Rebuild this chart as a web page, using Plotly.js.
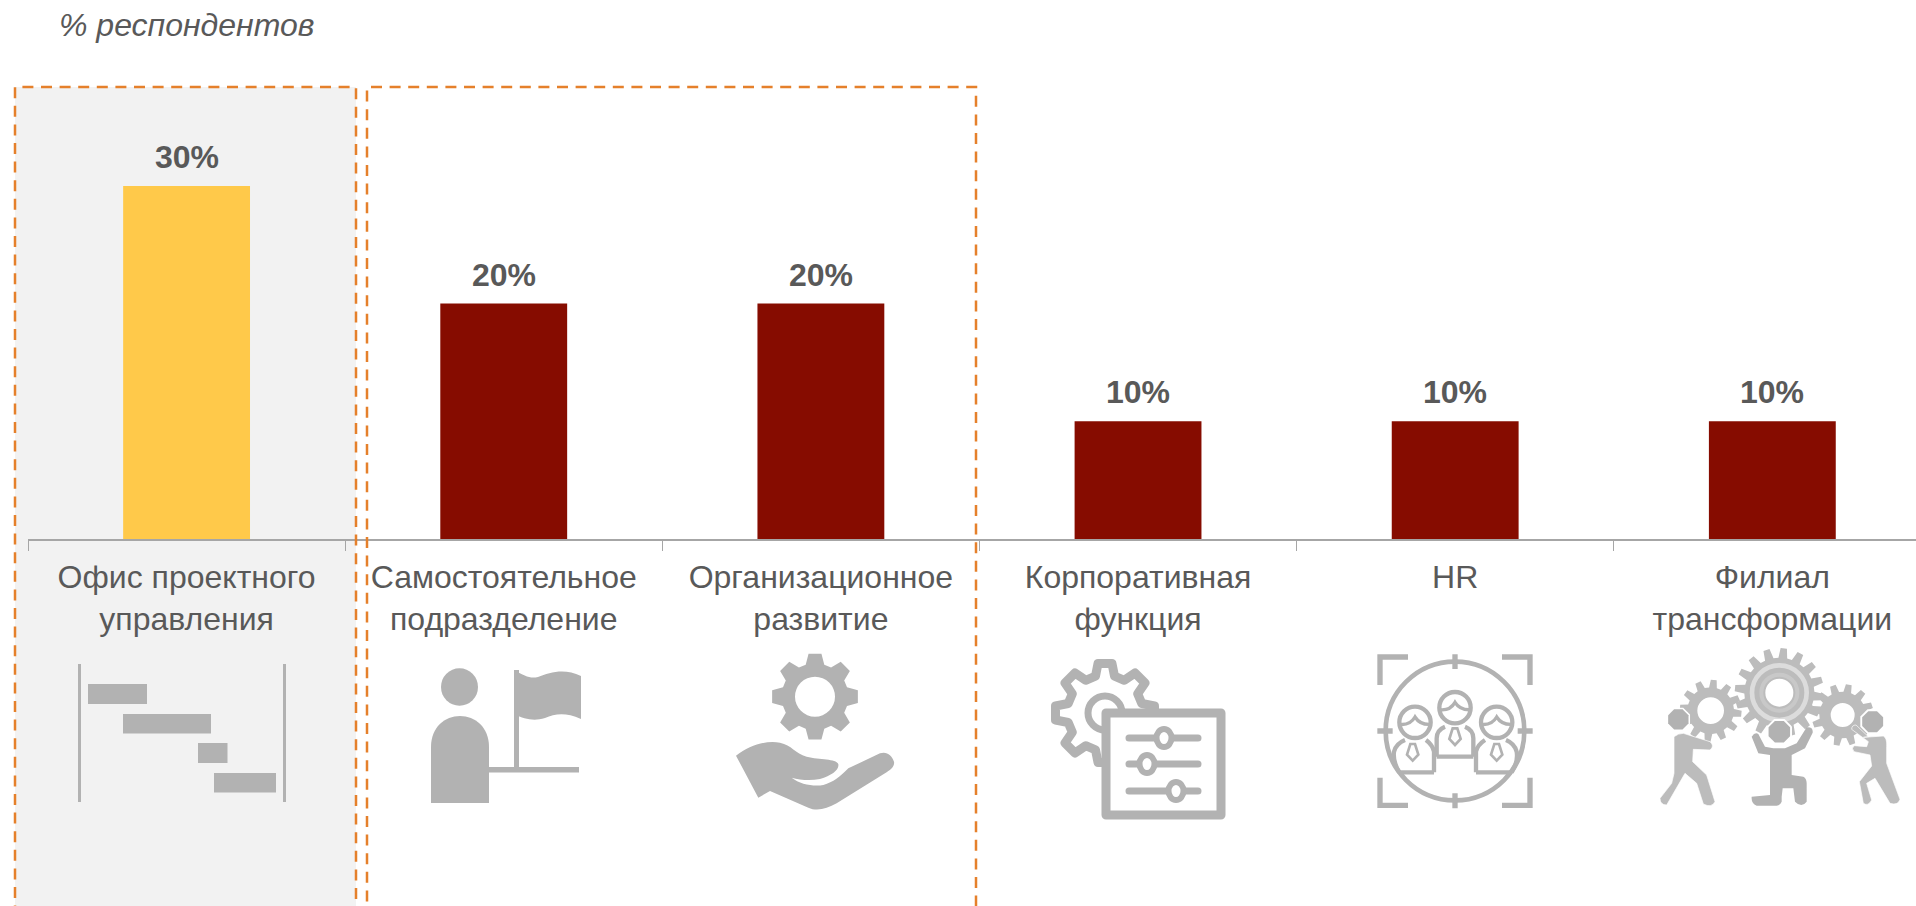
<!DOCTYPE html>
<html><head><meta charset="utf-8">
<script src="https://cdn.plot.ly/plotly-3.0.1.min.js"></script>
<style>html,body{margin:0;padding:0;background:#fff;overflow:hidden}#c{width:1916px;height:906px}</style>
</head><body><div id="c"></div>
<script>
const categories = ['Офис проектного<br>управления','Самостоятельное<br>подразделение','Организационное<br>развитие','Корпоративная<br>функция','HR','Филиал<br>трансформации'];
const values = [30,20,20,10,10,10];
const barColors = ['#FFC94A','#860C00','#860C00','#860C00','#860C00','#860C00'];
const subtitle = '% респондентов';

const W=1916,H=906,L=28,BASE=539;
const fx=p=>(p-L)/(W-L), fy=p=>(BASE-p)/BASE;
const G='#B2B2B2', G2='#BCBCBC';

function gear(cx,cy,ro,ri,n,rot,tip=0.18,root=0.32){
  let d='';const st=2*Math.PI/n;
  for(let i=0;i<n;i++){
    const a=rot+i*st;
    const pts=[[ri,a-st*root],[ro,a-st*tip],[ro,a+st*tip],[ri,a+st*root]];
    pts.forEach((p,j)=>{d+=(i===0&&j===0?'M':'L')+(cx+p[0]*Math.cos(p[1])).toFixed(1)+' '+(cy+p[0]*Math.sin(p[1])).toFixed(1)+' ';});
  }
  return d+'Z';
}
const hole=(cx,cy,r)=>`M${cx+r} ${cy} A${r} ${r} 0 1 0 ${cx-r} ${cy} A${r} ${r} 0 1 0 ${cx+r} ${cy} Z`;
function octagon(cx,cy,r){
  let d='';for(let i=0;i<8;i++){const a=Math.PI/8+i*Math.PI/4;d+=(i?'L':'M')+(cx+r*Math.cos(a)).toFixed(1)+' '+(cy+r*Math.sin(a)).toFixed(1)+' ';}
  return d+'Z';
}
function hrHead(x,y){
  return `<circle cx="${x}" cy="${y}" r="47" fill="none" stroke="${G}" stroke-width="13"/>
  <path d="M${x-47} ${y+6} Q${x-15} ${y+10} ${x} ${y-16} Q${x+15} ${y+8} ${x+47} ${y+6}" fill="none" stroke="${G}" stroke-width="10"/>`;
}
const tie=(x,y)=>`<path d="M${x-7} ${y} L${x+7} ${y} L${x+17} ${y+32} L${x} ${y+50} L${x-17} ${y+32} Z" fill="none" stroke="${G}" stroke-width="8"/>`;
const z3=(x,y,s)=>`<g transform="translate(${x} ${y}) scale(${1/3})">${s}</g>`;
const icons=[
 {b:[70,655,295,810],s:`<g fill="${G}">
   <rect x="78" y="664" width="3" height="138"/><rect x="283" y="664" width="3" height="138"/>
   <rect x="88" y="684" width="59" height="20"/><rect x="123" y="714" width="88" height="19.5"/>
   <rect x="198" y="743" width="29.5" height="20"/><rect x="214" y="773" width="62" height="19.5"/></g>`},
 {b:[425,660,590,810],s:`<g fill="${G}">
   <ellipse cx="459.5" cy="687" rx="18.5" ry="18.7"/>
   <path d="M431 803 V747 C431 727 445 716 460 716 C475 716 489 727 489 747 V803 Z"/>
   <rect x="489" y="767" width="90" height="5.5"/><rect x="514" y="670" width="5" height="98"/>
   <path d="M514 670 C525 676 530 679 538 677 C550 672 565 668 581 676 V719 C565 712 555 714 545 718 C532 722 525 718 514 715 Z"/></g>`},
 {b:[730,648,900,815],s:z3(720,645,`<path fill-rule="evenodd" fill="${G}" d="${gear(285,155,130,100,8,-Math.PI/2,0.19,0.36)} ${hole(285,155,60)}"/>
   <path fill="${G}" d="M48 332 C90 300 140 285 180 293 C215 300 225 325 260 335 C300 345 350 340 355 358 C358 375 335 392 300 402 C270 408 240 405 215 398 C240 418 280 425 310 420 C340 412 360 395 385 370 L480 325 C500 318 515 330 522 350 C525 365 510 375 495 385 L350 475 C320 492 290 500 265 488 L150 438 L115 458 Z"/>`)},
 {b:[1048,654,1230,824],s:`<path d="${gear(1105,713,50,38,8,-Math.PI/2)}" fill="none" stroke="${G}" stroke-width="9" stroke-linejoin="round"/>
   <circle cx="1105" cy="713" r="17" fill="none" stroke="${G}" stroke-width="7"/>
   <rect x="1106" y="713" width="115" height="102" fill="#fff" stroke="${G}" stroke-width="9" stroke-linejoin="round"/>
   <g stroke="${G}" stroke-width="7" stroke-linecap="round"><path d="M1129 738H1198M1129 764H1198M1129 791H1198"/></g>
   <g fill="#fff" stroke="${G}" stroke-width="6"><ellipse cx="1164" cy="738" rx="7.5" ry="9"/><ellipse cx="1147" cy="764" rx="7.5" ry="9"/><ellipse cx="1176" cy="791" rx="7.5" ry="9"/></g>`},
 {b:[1372,649,1537,814],s:z3(1370,645,`<circle cx="255" cy="258" r="208" fill="none" stroke="${G}" stroke-width="14"/>
   <path d="M114 36H30V120 M396 36H480V120 M30 398V481H114 M480 398V481H396" fill="none" stroke="${G}" stroke-width="16"/>
   <path d="M255 28V72 M255 445V490 M22 258H68 M443 258H488" stroke="${G}" stroke-width="16"/>
   ${hrHead(255,188)}${hrHead(135,232)}${hrHead(380,232)}
   <g fill="none" stroke="${G}" stroke-width="13" stroke-linejoin="round">
   <path d="M200 335 V280 Q200 255 225 245 M310 335 V280 Q310 255 285 245 M200 335 H310"/>
   <path d="M88 382 Q68 350 72 320 Q78 296 105 285 M192 382 V320 Q188 300 168 285 M88 382 H192"/>
   <path d="M425 382 Q445 350 440 320 Q434 296 408 285 M318 382 V320 Q322 300 345 285 M318 382 H425"/>
   </g>${tie(255,250)}${tie(128,297)}${tie(380,297)}`)},
 {b:[1655,642,1902,812],s:z3(1650,640,`<path fill-rule="evenodd" fill="${G2}" d="${gear(182,212,93,70,12,0.1)} ${hole(182,212,40)}"/>
   <path fill-rule="evenodd" fill="${G2}" d="${gear(578,225,93,70,12,0.2)} ${hole(578,225,36)}"/>
   <path fill-rule="evenodd" fill="${G2}" d="${gear(388,158,134,105,16,0.1)} ${hole(388,158,42)}"/>
   <circle cx="388" cy="158" r="82" fill="none" stroke="#DCDCDC" stroke-width="14"/>
   <circle cx="388" cy="158" r="54" fill="none" stroke="#C8C8C8" stroke-width="12"/>
   <path fill="#fff" d="${octagon(85,238,38)}"/><path fill="#fff" d="${octagon(388,275,41)}"/><path fill="#fff" d="${octagon(668,245,40)}"/>
   <path fill="${G}" d="${octagon(85,238,33)}"/><path fill="${G}" d="${octagon(388,275,35)}"/><path fill="${G}" d="${octagon(668,245,34)}"/>
   <path fill="${G2}" stroke="#fff" stroke-width="2" d="M72 290 Q85 280 100 280 L180 305 Q195 318 180 330 L130 328 L128 365 L170 405 L195 485 Q185 505 160 492 L140 430 L105 400 L50 495 Q30 495 30 475 L65 430 L72 400 Z"/>
   <path fill="${G}" d="M305 290 Q315 275 325 282 L345 320 L370 325 L405 325 L440 310 L470 262 Q490 260 488 278 L465 325 L425 345 L425 405 L460 410 Q470 415 470 430 L470 485 Q455 505 435 485 L430 445 L398 445 L395 470 L395 485 Q390 497 380 497 L320 497 Q303 490 305 470 L360 465 L360 345 L325 340 Z"/>
   <path fill="${G2}" stroke="#fff" stroke-width="2" d="M640 292 L700 288 Q712 295 710 320 L710 370 L750 478 Q745 497 720 490 L675 415 L650 430 L665 480 Q655 500 640 490 L628 425 L665 378 L660 345 L612 335 Q603 325 612 317 L650 320 L655 305 L605 268 Q605 255 618 255 L655 290 Z"/>`)}
];
const images=icons.map(ic=>{
  const [x0,y0,x1,y1]=ic.b,w=x1-x0,h=y1-y0;
  const svg=`<svg xmlns="http://www.w3.org/2000/svg" width="${w}" height="${h}" viewBox="${x0} ${y0} ${w} ${h}">${ic.s}</svg>`;
  return {source:'data:image/svg+xml;charset=utf-8,'+encodeURIComponent(svg),xref:'paper',yref:'paper',
    x:fx(x0),y:fy(y0),sizex:w/(W-L),sizey:h/BASE,xanchor:'left',yanchor:'top',sizing:'stretch',layer:'above'};
});
const dash={color:'#E5802B',width:2.5,dash:'11px,7.6px'};
const shapes=[
 {type:'rect',xref:'paper',yref:'paper',x0:fx(15),x1:fx(356),y0:fy(920),y1:fy(87),fillcolor:'#F2F2F2',line:{width:0},layer:'below'},
 {type:'rect',xref:'paper',yref:'paper',x0:fx(15),x1:fx(356),y0:fy(930),y1:fy(87),line:dash,layer:'above'},
 {type:'rect',xref:'paper',yref:'paper',x0:fx(367),x1:fx(976),y0:fy(930),y1:fy(87),line:dash,layer:'above'}
];
const annotations=values.map((v,i)=>({x:i,y:v,xref:'x',yref:'y',text:'<b>'+v+'%</b>',showarrow:false,yanchor:'bottom',yshift:9,
  font:{family:'Liberation Sans, Arial, sans-serif',size:32,color:'#595959'}}));
Plotly.newPlot('c',[{type:'bar',x:categories.map((c,i)=>i),y:values,marker:{color:barColors,line:{width:0}},hoverinfo:'skip',cliponaxis:false}],{
  width:W,height:H,margin:{l:L,r:0,t:0,b:H-BASE,pad:0},
  paper_bgcolor:'#fff',plot_bgcolor:'rgba(0,0,0,0)',bargap:0.6,showlegend:false,
  title:{text:subtitle,font:{family:'Liberation Sans, Arial, sans-serif',size:32,color:'#595959',style:'italic'},
    xref:'container',yref:'container',x:59/W,xanchor:'left',y:1-25/H,yanchor:'middle'},
  xaxis:{type:'linear',range:[-0.5,5.453],tickmode:'array',tickvals:[0,1,2,3,4,5],ticktext:categories,ticks:'',tickangle:0,
    showgrid:false,zeroline:false,showline:true,linecolor:'#A6A6A6',linewidth:1.5,
    tickfont:{family:'Liberation Sans, Arial, sans-serif',size:32,color:'#595959'},automargin:false,ticklabelstandoff:9,
    minor:{tickmode:'array',tickvals:[-0.5,0.5,1.5,2.5,3.5,4.5],ticks:'outside',ticklen:10,tickcolor:'#A6A6A6',tickwidth:1,showgrid:false}},
  yaxis:{range:[0,BASE/11.77],visible:false,fixedrange:true},
  shapes,images,annotations
},{displayModeBar:false,staticPlot:true});
</script></body></html>
